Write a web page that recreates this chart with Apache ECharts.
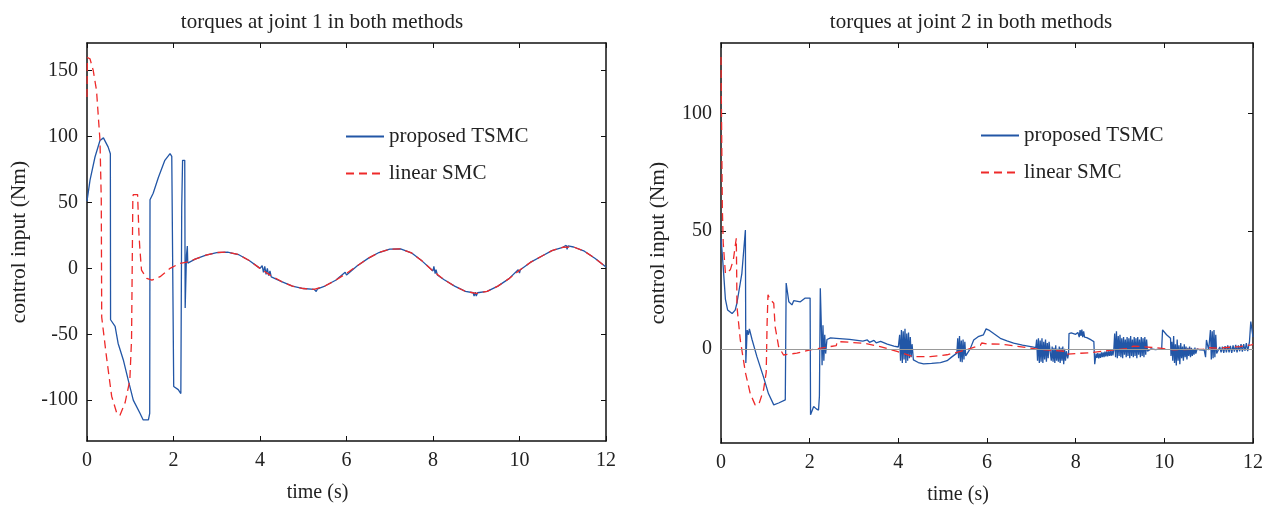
<!DOCTYPE html>
<html>
<head>
<meta charset="utf-8">
<script src="https://cdn.jsdelivr.net/npm/echarts@6/dist/echarts.min.js"></script>
<style>
  html, body { margin: 0; padding: 0; background: #fff; }
  #chart { width: 1266px; height: 505px; }
</style>
</head>
<body>
<div id="chart"></div>
<script>
// text
const titles = ['torques at joint 1 in both methods', 'torques at joint 2 in both methods']
const seriesNames = ['proposed TSMC', 'linear SMC']
const xName = 'time (s)'
const yName = 'control input (Nm)'

// tick labels
const xTicks = [0, 2, 4, 6, 8, 10, 12]
const yTicks1 = [-100, -50, 0, 50, 100, 150]
const yTicks2 = [0, 50, 100]

// joint 1, proposed TSMC  [time, torque]
const tsmc1 = [
  [0, 51], [0.07, 67], [0.185, 84.5], [0.3, 97], [0.38, 99], [0.49, 92], [0.54, 87],
  [0.545, -39], [0.65, -44], [0.72, -57], [0.84, -69.5], [0.955, -85], [1.07, -100],
  [1.225, -110], [1.3, -115], [1.42, -115], [1.45, -110], [1.457, 52], [1.53, 57],
  [1.65, 69], [1.8, 82], [1.92, 87], [1.96, 85], [2.0, 84], [2.005, -89.7], [2.11, -92],
  [2.17, -95], [2.19, 46], [2.21, 82], [2.26, 82], [2.27, -30], [2.3, 10], [2.32, 17],
  [2.33, 4], [2.35, 5], [2.5, 7], [2.75, 10], [3.0, 12], [3.25, 12.3], [3.5, 10.5],
  [3.75, 6], [4.0, 0], [4.05, 2], [4.08, -3], [4.11, 1.5], [4.14, -4.5], [4.17, 0],
  [4.2, -5.5], [4.23, -2], [4.26, -6.5], [4.3, -6.5], [4.5, -10], [4.75, -13.5],
  [5.0, -15.3], [5.25, -15.9], [5.3, -17.5], [5.33, -15.5], [5.5, -13.4], [5.75, -9],
  [5.97, -3], [6.0, -5], [6.03, -3.5], [6.25, 2], [6.5, 7.6], [6.75, 12], [7.0, 14.6],
  [7.25, 14.8], [7.5, 11.8], [7.75, 5.5], [8.0, -2], [8.02, 1.5], [8.05, -4], [8.07, -1],
  [8.1, -5], [8.25, -8.5], [8.5, -13.5], [8.75, -17.5], [8.93, -18.5], [8.95, -21],
  [8.98, -18], [9.0, -21], [9.03, -18.5], [9.25, -17.5], [9.5, -13.5], [9.75, -8],
  [9.97, -1], [10.0, -3.5], [10.02, -1], [10.25, 4.5], [10.5, 9], [10.75, 13.5],
  [11.0, 16], [11.08, 17.5], [11.1, 14.5], [11.12, 17], [11.25, 16.2], [11.5, 13],
  [11.75, 7.5], [12.0, 1]
]

// joint 1, linear SMC
const smc1 = [
  [0, 130], [0.01, 160], [0.07, 159], [0.145, 150], [0.22, 135], [0.3, 97], [0.33, 52],
  [0.34, -37], [0.45, -67], [0.57, -97], [0.69, -110], [0.76, -111.7], [0.88, -102],
  [0.99, -85], [1.03, -54], [1.06, 54], [1.07, 56], [1.17, 56], [1.2, 27], [1.22, 16],
  [1.26, -1.3], [1.38, -7.6], [1.5, -9], [1.69, -6.3], [1.92, 0], [2.15, 3.8], [2.35, 5],
  [2.5, 7], [2.75, 10], [3.0, 12], [3.25, 12.3], [3.5, 10.5], [3.75, 6], [4.0, 0],
  [4.25, -5.5], [4.5, -10], [4.75, -13.5], [5.0, -15.3], [5.25, -15.9], [5.5, -13.4],
  [5.75, -9], [6.0, -3.8], [6.25, 2], [6.5, 7.6], [6.75, 12], [7.0, 14.6], [7.25, 14.8],
  [7.5, 11.8], [7.75, 5.5], [8.0, -2], [8.25, -8.5], [8.5, -13.5], [8.75, -17.5],
  [9.0, -19], [9.25, -17.5], [9.5, -13.5], [9.75, -8], [10.0, -1.5], [10.25, 4.5],
  [10.5, 9], [10.75, 13.5], [11.0, 16], [11.25, 16.2], [11.5, 13], [11.75, 7.5], [12.0, 1]
]

// joint 2, proposed TSMC
const tsmc2 = [
  [0, 47], [0.03, 40], [0.06, 32], [0.1, 21], [0.15, 16.5], [0.25, 15], [0.32, 16.5],
  [0.36, 19.5], [0.47, 32], [0.55, 50.5], [0.56, -6], [0.59, 8], [0.62, 6], [0.64, 8.5],
  [0.7, 4], [0.81, -3.3], [0.96, -12], [1.07, -19], [1.19, -23.8], [1.3, -23], [1.45, -21.7],
  [1.47, 28], [1.53, 20], [1.6, 18.7], [1.64, 20.5], [1.79, 20], [1.9, 21.6], [2.01, 21.6],
  [2.02, -28], [2.09, -24.5], [2.15, -25.5], [2.2, -26], [2.22, -20], [2.24, 25.8],
  [2.26, 12], [2.28, -7], [2.3, 10], [2.32, -5], [2.34, 6], [2.36, -2], [2.39, 4],
  [2.47, 4.7], [2.6, 4.5], [2.9, 4], [3.2, 3.3], [3.3, 3.8], [3.35, 2.8], [3.45, 3.6],
  [3.5, 2.6], [3.6, 3.2], [3.75, 2], [3.9, 1.2], [4.0, 0.8], [4.03, 6], [4.05, -5],
  [4.07, 8], [4.09, -6], [4.11, 7.5], [4.13, -4.5], [4.15, 8.5], [4.17, -6], [4.19, 6.5],
  [4.21, -5], [4.23, 7], [4.25, -4], [4.27, 5], [4.29, -3.5], [4.31, 2], [4.34, -4.7],
  [4.45, -5.8], [4.57, -6.4], [4.75, -6.2], [4.95, -5.8], [5.1, -5], [5.2, -3.5],
  [5.32, -1.8], [5.34, 4.5], [5.36, -4], [5.38, 5.5], [5.4, -5.5], [5.42, 3.5], [5.44, -5.7],
  [5.46, 4], [5.48, -4.5], [5.5, 3], [5.52, -3], [5.55, -2.6], [5.62, 0], [5.7, 3.8],
  [5.72, 4.5], [5.8, 5.2], [5.92, 6], [5.98, 8.5], [6.04, 8], [6.15, 6.5], [6.3, 4.5],
  [6.45, 3.4], [6.6, 2.4], [6.8, 1.6], [7.05, 0.7],
  [7.1, 0.5], [7.12, 4], [7.14, -5], [7.16, 4.5], [7.18, -6], [7.2, 3.5], [7.22, -5.5],
  [7.24, 4.5], [7.26, -6], [7.28, 3], [7.3, -4.5], [7.32, 4], [7.34, -5.5], [7.36, 2.5],
  [7.38, -4], [7.4, 3], [7.43, -2], [7.45, -5], [7.47, 1], [7.49, -5.5], [7.51, 0.5],
  [7.53, -6], [7.55, 1.5], [7.57, -5], [7.59, 0], [7.61, -5.5], [7.63, 1], [7.65, -6],
  [7.67, 0.5], [7.69, -5], [7.71, 1], [7.73, -6.5], [7.75, 0], [7.77, -5], [7.79, -1],
  [7.82, -4], [7.84, -2], [7.85, 6.5], [7.9, 6.8], [8.0, 6.2], [8.05, 7], [8.08, 5],
  [8.1, 8], [8.12, 5.5], [8.14, 8.2], [8.16, 5], [8.18, 7.5], [8.2, 5], [8.25, 4.8],
  [8.35, 3.8], [8.41, 3.1], [8.43, -6.5],
  [8.46, -2], [8.48, -3.8], [8.5, -1.8], [8.52, -4], [8.54, -2], [8.56, -3.8], [8.58, -1.5],
  [8.6, -3.5], [8.62, -1.5], [8.64, -3.5], [8.66, -1.2], [8.68, -3.2], [8.7, -1], [8.72, -3.2],
  [8.74, -1], [8.76, -3], [8.78, -0.8], [8.8, -3], [8.82, -0.5], [8.84, -2.8], [8.86, -0.5],
  [8.88, 6.5], [8.9, -3.5], [8.92, 7.5], [8.94, -4], [8.96, 5.5], [8.98, -3], [9.0, 6],
  [9.02, -3.5], [9.04, 4.5], [9.06, -4], [9.08, 5], [9.1, -2.5], [9.12, 4], [9.14, -3.5],
  [9.16, 5], [9.18, -3], [9.2, 4.5], [9.22, -4], [9.24, 5.5], [9.26, -3], [9.28, 4],
  [9.3, -3.5], [9.32, 5], [9.34, -3], [9.36, 4.5], [9.38, -4], [9.4, 5], [9.42, -2.5],
  [9.44, 4], [9.46, -3.5], [9.48, 5], [9.5, -3], [9.52, 4.5], [9.54, -3.5], [9.56, 5],
  [9.58, -2.5], [9.6, 4], [9.62, -1], [9.7, 0], [9.8, -0.3], [9.94, 0], [9.96, 8.1],
  [10.05, 6], [10.14, 4.5], [10.15, -3],
  [10.17, 3], [10.19, -5], [10.21, 5.5], [10.23, -6], [10.25, 2], [10.27, -7], [10.29, 4],
  [10.31, -5], [10.33, 1.5], [10.35, -6.5], [10.37, 2.5], [10.39, -4], [10.41, 1], [10.43, -5],
  [10.45, 2], [10.47, -3.5], [10.49, 1], [10.51, -4.5], [10.53, 0.5], [10.55, -3], [10.57, 1],
  [10.59, -3.5], [10.61, 0.5], [10.63, -3], [10.65, 0], [10.67, -2.5], [10.69, 0.5],
  [10.71, -2], [10.74, 0], [10.8, -0.4], [10.9, -0.5], [10.93, -3.5], [10.95, 3.8],
  [11.0, -0.5], [11.02, -1], [11.04, 8], [11.06, -4.5], [11.08, 7.5], [11.1, -4], [11.12, 8],
  [11.14, -3.5], [11.16, 6], [11.18, -2],
  [11.22, -1.5], [11.25, 0.8], [11.28, -1.5], [11.31, 1], [11.34, -1.7], [11.37, 1.2],
  [11.4, -1.5], [11.43, 1.5], [11.46, -1.5], [11.49, 1.3], [11.52, -1.7], [11.55, 1.5],
  [11.58, -1.2], [11.61, 1.7], [11.64, -1.5], [11.67, 1.5], [11.7, -1], [11.73, 2],
  [11.76, -1.2], [11.79, 2], [11.82, -0.8], [11.85, 2.5], [11.88, -1], [11.92, 3],
  [11.95, 11.6], [11.97, 9], [12.0, 5]
]

// joint 2, linear SMC
const smc2 = [
  [0, 124], [0.02, 124], [0.03, 60], [0.05, 45], [0.1, 32], [0.135, 32], [0.21, 33.6],
  [0.28, 38], [0.33, 45], [0.345, 47], [0.355, 30], [0.36, 18], [0.435, 3.8], [0.55, -10],
  [0.66, -19], [0.77, -23.8], [0.85, -23.8], [0.96, -17.4], [1.02, -10], [1.04, 11],
  [1.06, 23], [1.11, 21], [1.19, 19.4], [1.22, 9.5], [1.3, 1], [1.41, -2.6], [1.71, -1.8],
  [2.01, -0.4], [2.47, 1], [2.6, 1.4], [2.62, 3.1], [2.9, 2.8], [3.22, 2.4], [3.59, 1],
  [3.97, -1.1], [4.34, -3.3], [4.72, -3.3], [5.1, -2.5], [5.4, -1.1], [5.77, 1], [5.85, 1.5],
  [5.88, 2.5], [6.0, 2.1], [6.3, 2], [6.45, 1.7], [7.13, -0.1], [7.8, -1.1], [7.82, -2.2],
  [8.33, -1.6], [8.86, -0.4], [9.2, 0.2], [9.3, 1.2], [9.46, 1], [9.91, 0.3], [10.21, -0.4],
  [10.89, -0.1], [11.0, 0.5], [11.19, 0.3], [11.71, 1], [11.97, 1.7], [12, 2]
]

const font = '"Liberation Serif", "DejaVu Serif", serif'
const ink = '#222'
const blue = '#2256a6'
const red = '#ee2a2a'

const chart = echarts.init(document.getElementById('chart'))

const grids = [
  { left: 87, top: 43, width: 519, height: 398, outerBoundsMode: 'none', containLabel: false },
  { left: 721, top: 43, width: 532, height: 400, outerBoundsMode: 'none', containLabel: false }
]
const yRanges = [[-131, 171], [-40, 130]]
const yTicks = [yTicks1, yTicks2]
const yNameGaps = [57, 52]

const xAxes = []
const yAxes = []
grids.forEach((g, i) => {
  xAxes.push({
    type: 'value', gridIndex: i, min: 0, max: 12, interval: 2, position: 'bottom',
    name: xName, nameLocation: 'middle', nameGap: 42,
    // the x label sits a little left of the axis centre in the original
    nameTextStyle: { fontFamily: font, fontSize: 20, color: ink, padding: [0, 58, 0, 0] },
    axisLine: { onZero: false, lineStyle: { color: '#111', width: 1.5 } },
    axisTick: { inside: true, length: 5, lineStyle: { color: '#111' } },
    axisLabel: { fontFamily: font, fontSize: 20, color: ink, margin: 10 },
    splitLine: { show: false }
  })
  xAxes.push({
    type: 'value', gridIndex: i, min: 0, max: 12, interval: 2, position: 'top',
    axisLine: { onZero: false, lineStyle: { color: '#111', width: 1.5 } },
    axisTick: { inside: true, length: 5, lineStyle: { color: '#111' } },
    axisLabel: { show: false },
    splitLine: { show: false }
  })
  yAxes.push({
    type: 'value', gridIndex: i, min: yRanges[i][0], max: yRanges[i][1], position: 'left',
    name: yName, nameLocation: 'middle', nameGap: yNameGaps[i],
    nameTextStyle: { fontFamily: font, fontSize: 21.5, color: ink },
    axisLine: { onZero: false, lineStyle: { color: '#111', width: 1.5 } },
    axisTick: { inside: true, length: 5, customValues: yTicks[i], lineStyle: { color: '#111' } },
    axisLabel: { fontFamily: font, fontSize: 20, color: ink, margin: 9, customValues: yTicks[i] },
    splitLine: { show: false }
  })
  yAxes.push({
    type: 'value', gridIndex: i, min: yRanges[i][0], max: yRanges[i][1], position: 'right',
    axisLine: { onZero: false, lineStyle: { color: '#111', width: 1.5 } },
    axisTick: { inside: true, length: 5, customValues: yTicks[i], lineStyle: { color: '#111' } },
    axisLabel: { show: false },
    splitLine: { show: false }
  })
})

const lineSeries = (name, data, idx, color, dashed) => ({
  name, type: 'line', data,
  xAxisIndex: idx * 2, yAxisIndex: idx * 2,
  symbol: 'none', showSymbol: false, smooth: false,
  lineStyle: { color, width: 1.3, type: dashed ? [8, 5] : 'solid' },
  itemStyle: { color },
  z: dashed ? 3 : 2
})

const tsmc2Series = lineSeries(seriesNames[0], tsmc2, 1, blue, false)
tsmc2Series.markLine = {
  silent: true, symbol: 'none', label: { show: false },
  lineStyle: { color: '#999', type: 'solid', width: 1.2 },
  data: [{ yAxis: 0 }]
}

const legendBase = {
  orient: 'vertical', itemWidth: 38, itemHeight: 14, itemGap: 16, padding: 0,
  itemStyle: { opacity: 0 },
  textStyle: { fontFamily: font, fontSize: 21, color: ink },
  data: seriesNames, selectedMode: false
}

const titleStyle = { fontFamily: font, fontSize: 21, fontWeight: 'normal', color: ink }

chart.setOption({
  animation: false,
  backgroundColor: '#fff',
  title: [
    { text: titles[0], left: 317, top: 7, textAlign: 'center', textStyle: titleStyle },
    { text: titles[1], left: 966, top: 7, textAlign: 'center', textStyle: titleStyle }
  ],
  legend: [
    Object.assign({ left: 345, top: 126 }, legendBase),
    Object.assign({ left: 980, top: 125 }, legendBase)
  ],
  grid: grids,
  xAxis: xAxes,
  yAxis: yAxes,
  series: [
    lineSeries(seriesNames[0], tsmc1, 0, blue, false),
    lineSeries(seriesNames[1], smc1, 0, red, true),
    tsmc2Series,
    lineSeries(seriesNames[1], smc2, 1, red, true)
  ]
})
</script>
</body>
</html>
